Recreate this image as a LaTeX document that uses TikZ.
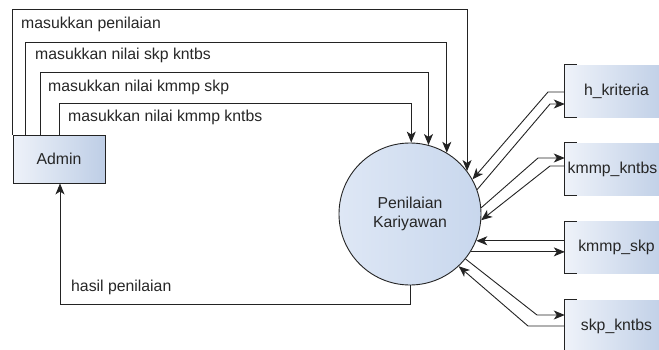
\documentclass[tikz,border=0pt]{standalone}
\usepackage{fontspec}
\setmainfont{Liberation Sans}
\usetikzlibrary{arrows.meta}

\definecolor{edge}{RGB}{35,35,35}
\definecolor{boxlight}{RGB}{238,242,249}
\definecolor{boxdark}{RGB}{190,206,230}
\definecolor{circlight}{RGB}{222,231,245}
\definecolor{circdark}{RGB}{200,215,237}

\begin{document}
\begin{tikzpicture}[x=1pt,y=-1pt,
  font=\fontsize{15.8}{19}\selectfont,
  every node/.style={text=black!85},
  flow/.style={draw=edge,line width=0.9pt,-{Stealth[length=11pt,width=9pt,inset=3pt]}},
  wire/.style={draw=edge,line width=0.9pt},
  entity/.style={rectangle,draw=edge,line width=0.9pt,left color=boxlight,right color=boxdark,minimum width=92pt,minimum height=48pt,inner sep=0pt},
  process/.style={circle,draw=edge,line width=0.9pt,left color=circlight,right color=circdark,minimum size=142pt,inner sep=0pt,align=center},
  store/.style={rectangle,left color=boxlight,right color=boxdark,minimum width=103pt,minimum height=52pt,inner sep=0pt},
  flowlabel/.style={anchor=west,inner sep=0pt}]
  \useasboundingbox (0,0) rectangle (659,349);
  \clip (0,0) rectangle (659,349);

  % nodes
  \node[entity] (admin) at (59,159) {Admin};
  \node[process] (proc) at (410,214) {Penilaian\\Kariyawan};
  \node[store] (hk) at (616.5,91) {h\_kriteria};
  \node[store] (kk) at (616.5,169) {\hspace*{-8pt}kmmp\_kntbs};
  \node[store] (ks) at (616.5,247.5) {kmmp\_skp};
  \node[store] (sk) at (616.5,326) {skp\_kntbs};
  \foreach \s in {hk,kk,ks,sk}
    \draw[wire] ([xshift=12pt]\s.north west) -- (\s.north west) -- (\s.south west) -- ([xshift=12pt]\s.south west);

  % bends
  \coordinate (r1) at (0,9);
  \coordinate (r2) at (0,42);
  \coordinate (r3) at (0,72);
  \coordinate (r4) at (0,103);
  \coordinate (r5) at (60,304);
  \coordinate (a1) at (548,92);
  \coordinate (b1) at (550,104);
  \coordinate (c1) at (538,158);
  \coordinate (d1) at (550,166);
  \coordinate (g1) at (537,315);
  \coordinate (h1) at (528,326);

  % admin to process
  \draw[flow] (admin.north west) |- (proc.37 |- r1) -- (proc.37);
  \draw[flow] ([xshift=13pt]admin.north west) |- (proc.59 |- r2) -- (proc.59);
  \draw[flow] ([xshift=28pt]admin.north west) |- (proc.75 |- r3) -- (proc.75);
  \draw[flow] ([xshift=47pt]admin.north west) |- (proc.89 |- r4) -- (proc.89);
  \draw[flow] (proc.south) |- (r5) -- (r5 |- admin.south);

  \node[flowlabel] (l1) at (21,24) {masukkan penilaian};
  \node[flowlabel] (l2) at (35,55) {masukkan nilai skp kntbs};
  \node[flowlabel] (l3) at (48,87) {masukkan nilai kmmp skp};
  \node[flowlabel] (l4) at (68,117) {masukkan nilai kmmp kntbs};
  \node[flowlabel] (l5) at (71,287) {hasil penilaian};

  % process and stores
  \draw[flow] (hk.west |- a1) -- (a1) -- (proc.29);
  \draw[flow] (proc.20) -- (b1) -- (hk.west |- b1);
  \draw[flow] (proc.5) -- (c1) -- (kk.west |- c1);
  \draw[flow] (kk.west |- d1) -- (d1) -- (proc.-5);
  \draw[flow] (ks.west |- proc.-22) -- (proc.-22);
  \draw[flow] (proc.-32) -- (ks.west |- proc.-32);
  \draw[flow] (proc.-39) -- (g1) -- (sk.west |- g1);
  \draw[flow] (sk.west |- h1) -- (h1) -- (proc.-47);
\end{tikzpicture}
\end{document}
